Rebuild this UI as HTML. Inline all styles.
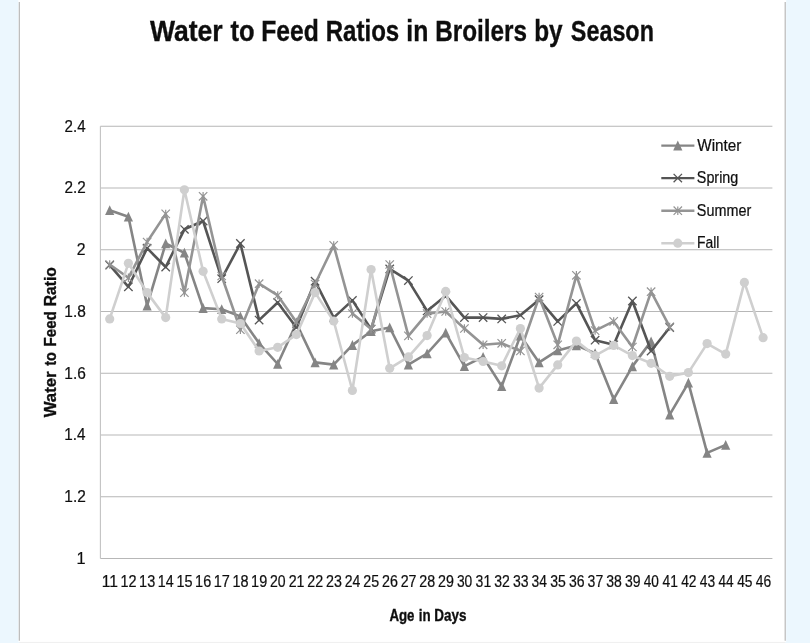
<!DOCTYPE html>
<html><head><meta charset="utf-8"><title>Water to Feed Ratios in Broilers by Season</title>
<style>html,body{margin:0;padding:0;background:#ecf7fe;}body{width:810px;height:643px;overflow:hidden;}svg{display:block;}text{font-family:"Liberation Sans",sans-serif;fill:#111;}</style></head><body>
<svg width="810" height="643" viewBox="0 0 810 643">
<defs><filter id="b" x="-2%" y="-2%" width="104%" height="104%"><feGaussianBlur stdDeviation="0.45"/></filter></defs>
<rect width="810" height="643" fill="#ecf7fe"/>
<rect x="18.4" y="0" width="767.8" height="642" fill="#ffffff"/>
<rect x="19.3" y="641.9" width="766" height="1.1" fill="#f0f0f0"/>
<g filter="url(#b)">
<path d="M19.3 2V640.8M785.2 2V640.8" stroke="#b6b6b6" stroke-width="1.15" fill="none"/>
<path d="M100.4 558.5H772.4M100.4 496.7H772.4M100.4 435.0H772.4M100.4 373.2H772.4M100.4 311.5H772.4M100.4 249.7H772.4M100.4 188.0H772.4M100.4 126.2H772.4" stroke="#b7b7b7" stroke-width="1.1" fill="none"/>
<path d="M100.4 126.2V558.5" stroke="#c2c2c2" stroke-width="1.1" fill="none"/>
<polyline points="109.7,210.2 128.4,216.7 147.1,305.6 165.7,243.5 184.4,252.8 203.1,308.1 221.7,309.3 240.4,316.4 259.1,343.3 277.7,364.0 296.4,323.2 315.1,362.4 333.7,364.6 352.4,345.1 371.1,331.2 389.7,327.5 408.4,364.6 427.1,353.5 445.7,332.8 464.4,366.1 483.1,356.9 501.7,386.2 520.4,335.6 539.1,362.4 557.7,350.4 576.4,345.4 595.1,353.2 613.7,399.2 632.4,366.4 651.1,341.4 669.7,414.6 688.4,382.8 707.1,452.9 725.7,444.9" fill="none" stroke="#858585" stroke-width="2.6" stroke-linejoin="round" stroke-linecap="round"/>
<path d="M109.7 205.2L114.3 215.0L105.1 215.0Z" fill="#858585"/><path d="M128.4 211.7L133.0 221.5L123.8 221.5Z" fill="#858585"/><path d="M147.1 300.6L151.7 310.4L142.5 310.4Z" fill="#858585"/><path d="M165.7 238.5L170.3 248.3L161.1 248.3Z" fill="#858585"/><path d="M184.4 247.8L189.0 257.6L179.8 257.6Z" fill="#858585"/><path d="M203.1 303.1L207.7 312.9L198.5 312.9Z" fill="#858585"/><path d="M221.7 304.3L226.3 314.1L217.1 314.1Z" fill="#858585"/><path d="M240.4 311.4L245.0 321.2L235.8 321.2Z" fill="#858585"/><path d="M259.1 338.3L263.7 348.1L254.5 348.1Z" fill="#858585"/><path d="M277.7 359.0L282.3 368.8L273.1 368.8Z" fill="#858585"/><path d="M296.4 318.2L301.0 328.0L291.8 328.0Z" fill="#858585"/><path d="M315.1 357.4L319.7 367.2L310.5 367.2Z" fill="#858585"/><path d="M333.7 359.6L338.3 369.4L329.1 369.4Z" fill="#858585"/><path d="M352.4 340.1L357.0 349.9L347.8 349.9Z" fill="#858585"/><path d="M371.1 326.2L375.7 336.0L366.5 336.0Z" fill="#858585"/><path d="M389.7 322.5L394.3 332.3L385.1 332.3Z" fill="#858585"/><path d="M408.4 359.6L413.0 369.4L403.8 369.4Z" fill="#858585"/><path d="M427.1 348.5L431.7 358.3L422.5 358.3Z" fill="#858585"/><path d="M445.7 327.8L450.3 337.6L441.1 337.6Z" fill="#858585"/><path d="M464.4 361.1L469.0 370.9L459.8 370.9Z" fill="#858585"/><path d="M483.1 351.9L487.7 361.7L478.5 361.7Z" fill="#858585"/><path d="M501.7 381.2L506.3 391.0L497.1 391.0Z" fill="#858585"/><path d="M520.4 330.6L525.0 340.4L515.8 340.4Z" fill="#858585"/><path d="M539.1 357.4L543.7 367.2L534.5 367.2Z" fill="#858585"/><path d="M557.7 345.4L562.3 355.2L553.1 355.2Z" fill="#858585"/><path d="M576.4 340.4L581.0 350.2L571.8 350.2Z" fill="#858585"/><path d="M595.1 348.2L599.7 358.0L590.5 358.0Z" fill="#858585"/><path d="M613.7 394.2L618.3 404.0L609.1 404.0Z" fill="#858585"/><path d="M632.4 361.4L637.0 371.2L627.8 371.2Z" fill="#858585"/><path d="M651.1 336.4L655.7 346.2L646.5 346.2Z" fill="#858585"/><path d="M669.7 409.6L674.3 419.4L665.1 419.4Z" fill="#858585"/><path d="M688.4 377.8L693.0 387.6L683.8 387.6Z" fill="#858585"/><path d="M707.1 447.9L711.7 457.7L702.5 457.7Z" fill="#858585"/><path d="M725.7 439.9L730.3 449.7L721.1 449.7Z" fill="#858585"/>
<polyline points="109.7,265.2 128.4,286.8 147.1,248.2 165.7,267.0 184.4,229.3 203.1,221.0 221.7,278.7 240.4,243.5 259.1,320.1 277.7,302.5 296.4,327.5 315.1,281.2 333.7,317.6 352.4,300.4 371.1,329.1 389.7,268.9 408.4,280.6 427.1,310.9 445.7,295.7 464.4,317.6 483.1,317.6 501.7,318.9 520.4,315.2 539.1,299.7 557.7,321.4 576.4,303.4 595.1,340.2 613.7,344.8 632.4,301.0 651.1,351.0 669.7,327.5" fill="none" stroke="#555555" stroke-width="2.6" stroke-linejoin="round" stroke-linecap="round"/>
<path d="M105.5 261.0L113.9 269.4M105.5 269.4L113.9 261.0" stroke="#555555" stroke-width="1.3" fill="none"/><path d="M124.2 282.6L132.6 291.0M124.2 291.0L132.6 282.6" stroke="#555555" stroke-width="1.3" fill="none"/><path d="M142.9 244.0L151.3 252.4M142.9 252.4L151.3 244.0" stroke="#555555" stroke-width="1.3" fill="none"/><path d="M161.5 262.8L169.9 271.2M161.5 271.2L169.9 262.8" stroke="#555555" stroke-width="1.3" fill="none"/><path d="M180.2 225.1L188.6 233.5M180.2 233.5L188.6 225.1" stroke="#555555" stroke-width="1.3" fill="none"/><path d="M198.9 216.8L207.3 225.2M198.9 225.2L207.3 216.8" stroke="#555555" stroke-width="1.3" fill="none"/><path d="M217.5 274.5L225.9 282.9M217.5 282.9L225.9 274.5" stroke="#555555" stroke-width="1.3" fill="none"/><path d="M236.2 239.3L244.6 247.7M236.2 247.7L244.6 239.3" stroke="#555555" stroke-width="1.3" fill="none"/><path d="M254.9 315.9L263.3 324.3M254.9 324.3L263.3 315.9" stroke="#555555" stroke-width="1.3" fill="none"/><path d="M273.5 298.3L281.9 306.7M273.5 306.7L281.9 298.3" stroke="#555555" stroke-width="1.3" fill="none"/><path d="M292.2 323.3L300.6 331.7M292.2 331.7L300.6 323.3" stroke="#555555" stroke-width="1.3" fill="none"/><path d="M310.9 277.0L319.3 285.4M310.9 285.4L319.3 277.0" stroke="#555555" stroke-width="1.3" fill="none"/><path d="M329.5 313.4L337.9 321.8M329.5 321.8L337.9 313.4" stroke="#555555" stroke-width="1.3" fill="none"/><path d="M348.2 296.2L356.6 304.6M348.2 304.6L356.6 296.2" stroke="#555555" stroke-width="1.3" fill="none"/><path d="M366.9 324.9L375.3 333.3M366.9 333.3L375.3 324.9" stroke="#555555" stroke-width="1.3" fill="none"/><path d="M385.5 264.7L393.9 273.1M385.5 273.1L393.9 264.7" stroke="#555555" stroke-width="1.3" fill="none"/><path d="M404.2 276.4L412.6 284.8M404.2 284.8L412.6 276.4" stroke="#555555" stroke-width="1.3" fill="none"/><path d="M422.9 306.7L431.3 315.1M422.9 315.1L431.3 306.7" stroke="#555555" stroke-width="1.3" fill="none"/><path d="M441.5 291.5L449.9 299.9M441.5 299.9L449.9 291.5" stroke="#555555" stroke-width="1.3" fill="none"/><path d="M460.2 313.4L468.6 321.8M460.2 321.8L468.6 313.4" stroke="#555555" stroke-width="1.3" fill="none"/><path d="M478.9 313.4L487.3 321.8M478.9 321.8L487.3 313.4" stroke="#555555" stroke-width="1.3" fill="none"/><path d="M497.5 314.7L505.9 323.1M497.5 323.1L505.9 314.7" stroke="#555555" stroke-width="1.3" fill="none"/><path d="M516.2 311.0L524.6 319.4M516.2 319.4L524.6 311.0" stroke="#555555" stroke-width="1.3" fill="none"/><path d="M534.9 295.5L543.3 303.9M534.9 303.9L543.3 295.5" stroke="#555555" stroke-width="1.3" fill="none"/><path d="M553.5 317.2L561.9 325.6M553.5 325.6L561.9 317.2" stroke="#555555" stroke-width="1.3" fill="none"/><path d="M572.2 299.2L580.6 307.6M572.2 307.6L580.6 299.2" stroke="#555555" stroke-width="1.3" fill="none"/><path d="M590.9 336.0L599.3 344.4M590.9 344.4L599.3 336.0" stroke="#555555" stroke-width="1.3" fill="none"/><path d="M609.5 340.6L617.9 349.0M609.5 349.0L617.9 340.6" stroke="#555555" stroke-width="1.3" fill="none"/><path d="M628.2 296.8L636.6 305.2M628.2 305.2L636.6 296.8" stroke="#555555" stroke-width="1.3" fill="none"/><path d="M646.9 346.8L655.3 355.2M646.9 355.2L655.3 346.8" stroke="#555555" stroke-width="1.3" fill="none"/><path d="M665.5 323.3L673.9 331.7M665.5 331.7L673.9 323.3" stroke="#555555" stroke-width="1.3" fill="none"/>
<polyline points="109.7,264.5 128.4,277.8 147.1,242.0 165.7,213.9 184.4,292.6 203.1,196.3 221.7,276.0 240.4,329.7 259.1,283.7 277.7,295.4 296.4,322.0 315.1,284.0 333.7,245.4 352.4,313.6 371.1,329.1 389.7,264.5 408.4,335.9 427.1,313.6 445.7,311.5 464.4,328.5 483.1,344.8 501.7,343.3 520.4,351.0 539.1,297.0 557.7,344.8 576.4,275.3 595.1,330.6 613.7,321.4 632.4,347.0 651.1,291.7 669.7,326.9" fill="none" stroke="#949494" stroke-width="2.6" stroke-linejoin="round" stroke-linecap="round"/>
<path d="M105.5 260.3L113.9 268.7M105.5 268.7L113.9 260.3M109.7 260.3L109.7 268.7" stroke="#949494" stroke-width="1.2" fill="none"/><path d="M124.2 273.6L132.6 282.0M124.2 282.0L132.6 273.6M128.4 273.6L128.4 282.0" stroke="#949494" stroke-width="1.2" fill="none"/><path d="M142.9 237.8L151.3 246.2M142.9 246.2L151.3 237.8M147.1 237.8L147.1 246.2" stroke="#949494" stroke-width="1.2" fill="none"/><path d="M161.5 209.7L169.9 218.1M161.5 218.1L169.9 209.7M165.7 209.7L165.7 218.1" stroke="#949494" stroke-width="1.2" fill="none"/><path d="M180.2 288.4L188.6 296.8M180.2 296.8L188.6 288.4M184.4 288.4L184.4 296.8" stroke="#949494" stroke-width="1.2" fill="none"/><path d="M198.9 192.1L207.3 200.5M198.9 200.5L207.3 192.1M203.1 192.1L203.1 200.5" stroke="#949494" stroke-width="1.2" fill="none"/><path d="M217.5 271.8L225.9 280.2M217.5 280.2L225.9 271.8M221.7 271.8L221.7 280.2" stroke="#949494" stroke-width="1.2" fill="none"/><path d="M236.2 325.5L244.6 333.9M236.2 333.9L244.6 325.5M240.4 325.5L240.4 333.9" stroke="#949494" stroke-width="1.2" fill="none"/><path d="M254.9 279.5L263.3 287.9M254.9 287.9L263.3 279.5M259.1 279.5L259.1 287.9" stroke="#949494" stroke-width="1.2" fill="none"/><path d="M273.5 291.2L281.9 299.6M273.5 299.6L281.9 291.2M277.7 291.2L277.7 299.6" stroke="#949494" stroke-width="1.2" fill="none"/><path d="M292.2 317.8L300.6 326.2M292.2 326.2L300.6 317.8M296.4 317.8L296.4 326.2" stroke="#949494" stroke-width="1.2" fill="none"/><path d="M310.9 279.8L319.3 288.2M310.9 288.2L319.3 279.8M315.1 279.8L315.1 288.2" stroke="#949494" stroke-width="1.2" fill="none"/><path d="M329.5 241.2L337.9 249.6M329.5 249.6L337.9 241.2M333.7 241.2L333.7 249.6" stroke="#949494" stroke-width="1.2" fill="none"/><path d="M348.2 309.4L356.6 317.8M348.2 317.8L356.6 309.4M352.4 309.4L352.4 317.8" stroke="#949494" stroke-width="1.2" fill="none"/><path d="M366.9 324.9L375.3 333.3M366.9 333.3L375.3 324.9M371.1 324.9L371.1 333.3" stroke="#949494" stroke-width="1.2" fill="none"/><path d="M385.5 260.3L393.9 268.7M385.5 268.7L393.9 260.3M389.7 260.3L389.7 268.7" stroke="#949494" stroke-width="1.2" fill="none"/><path d="M404.2 331.7L412.6 340.1M404.2 340.1L412.6 331.7M408.4 331.7L408.4 340.1" stroke="#949494" stroke-width="1.2" fill="none"/><path d="M422.9 309.4L431.3 317.8M422.9 317.8L431.3 309.4M427.1 309.4L427.1 317.8" stroke="#949494" stroke-width="1.2" fill="none"/><path d="M441.5 307.3L449.9 315.7M441.5 315.7L449.9 307.3M445.7 307.3L445.7 315.7" stroke="#949494" stroke-width="1.2" fill="none"/><path d="M460.2 324.3L468.6 332.7M460.2 332.7L468.6 324.3M464.4 324.3L464.4 332.7" stroke="#949494" stroke-width="1.2" fill="none"/><path d="M478.9 340.6L487.3 349.0M478.9 349.0L487.3 340.6M483.1 340.6L483.1 349.0" stroke="#949494" stroke-width="1.2" fill="none"/><path d="M497.5 339.1L505.9 347.5M497.5 347.5L505.9 339.1M501.7 339.1L501.7 347.5" stroke="#949494" stroke-width="1.2" fill="none"/><path d="M516.2 346.8L524.6 355.2M516.2 355.2L524.6 346.8M520.4 346.8L520.4 355.2" stroke="#949494" stroke-width="1.2" fill="none"/><path d="M534.9 292.8L543.3 301.2M534.9 301.2L543.3 292.8M539.1 292.8L539.1 301.2" stroke="#949494" stroke-width="1.2" fill="none"/><path d="M553.5 340.6L561.9 349.0M553.5 349.0L561.9 340.6M557.7 340.6L557.7 349.0" stroke="#949494" stroke-width="1.2" fill="none"/><path d="M572.2 271.1L580.6 279.5M572.2 279.5L580.6 271.1M576.4 271.1L576.4 279.5" stroke="#949494" stroke-width="1.2" fill="none"/><path d="M590.9 326.4L599.3 334.8M590.9 334.8L599.3 326.4M595.1 326.4L595.1 334.8" stroke="#949494" stroke-width="1.2" fill="none"/><path d="M609.5 317.2L617.9 325.6M609.5 325.6L617.9 317.2M613.7 317.2L613.7 325.6" stroke="#949494" stroke-width="1.2" fill="none"/><path d="M628.2 342.8L636.6 351.2M628.2 351.2L636.6 342.8M632.4 342.8L632.4 351.2" stroke="#949494" stroke-width="1.2" fill="none"/><path d="M646.9 287.5L655.3 295.9M646.9 295.9L655.3 287.5M651.1 287.5L651.1 295.9" stroke="#949494" stroke-width="1.2" fill="none"/><path d="M665.5 322.7L673.9 331.1M665.5 331.1L673.9 322.7M669.7 322.7L669.7 331.1" stroke="#949494" stroke-width="1.2" fill="none"/>
<polyline points="109.7,318.9 128.4,263.3 147.1,292.6 165.7,317.6 184.4,189.8 203.1,271.3 221.7,318.9 240.4,323.5 259.1,351.0 277.7,347.3 296.4,334.6 315.1,292.6 333.7,321.0 352.4,390.5 371.1,269.5 389.7,368.3 408.4,356.9 427.1,335.6 445.7,291.4 464.4,357.5 483.1,361.5 501.7,365.8 520.4,328.5 539.1,388.1 557.7,364.9 576.4,341.1 595.1,355.6 613.7,345.4 632.4,355.6 651.1,363.3 669.7,376.3 688.4,372.6 707.1,343.6 725.7,354.1 744.4,282.4 763.1,337.7" fill="none" stroke="#cfcfcf" stroke-width="2.6" stroke-linejoin="round" stroke-linecap="round"/>
<circle cx="109.7" cy="318.9" r="4.6" fill="#cfcfcf"/><circle cx="128.4" cy="263.3" r="4.6" fill="#cfcfcf"/><circle cx="147.1" cy="292.6" r="4.6" fill="#cfcfcf"/><circle cx="165.7" cy="317.6" r="4.6" fill="#cfcfcf"/><circle cx="184.4" cy="189.8" r="4.6" fill="#cfcfcf"/><circle cx="203.1" cy="271.3" r="4.6" fill="#cfcfcf"/><circle cx="221.7" cy="318.9" r="4.6" fill="#cfcfcf"/><circle cx="240.4" cy="323.5" r="4.6" fill="#cfcfcf"/><circle cx="259.1" cy="351.0" r="4.6" fill="#cfcfcf"/><circle cx="277.7" cy="347.3" r="4.6" fill="#cfcfcf"/><circle cx="296.4" cy="334.6" r="4.6" fill="#cfcfcf"/><circle cx="315.1" cy="292.6" r="4.6" fill="#cfcfcf"/><circle cx="333.7" cy="321.0" r="4.6" fill="#cfcfcf"/><circle cx="352.4" cy="390.5" r="4.6" fill="#cfcfcf"/><circle cx="371.1" cy="269.5" r="4.6" fill="#cfcfcf"/><circle cx="389.7" cy="368.3" r="4.6" fill="#cfcfcf"/><circle cx="408.4" cy="356.9" r="4.6" fill="#cfcfcf"/><circle cx="427.1" cy="335.6" r="4.6" fill="#cfcfcf"/><circle cx="445.7" cy="291.4" r="4.6" fill="#cfcfcf"/><circle cx="464.4" cy="357.5" r="4.6" fill="#cfcfcf"/><circle cx="483.1" cy="361.5" r="4.6" fill="#cfcfcf"/><circle cx="501.7" cy="365.8" r="4.6" fill="#cfcfcf"/><circle cx="520.4" cy="328.5" r="4.6" fill="#cfcfcf"/><circle cx="539.1" cy="388.1" r="4.6" fill="#cfcfcf"/><circle cx="557.7" cy="364.9" r="4.6" fill="#cfcfcf"/><circle cx="576.4" cy="341.1" r="4.6" fill="#cfcfcf"/><circle cx="595.1" cy="355.6" r="4.6" fill="#cfcfcf"/><circle cx="613.7" cy="345.4" r="4.6" fill="#cfcfcf"/><circle cx="632.4" cy="355.6" r="4.6" fill="#cfcfcf"/><circle cx="651.1" cy="363.3" r="4.6" fill="#cfcfcf"/><circle cx="669.7" cy="376.3" r="4.6" fill="#cfcfcf"/><circle cx="688.4" cy="372.6" r="4.6" fill="#cfcfcf"/><circle cx="707.1" cy="343.6" r="4.6" fill="#cfcfcf"/><circle cx="725.7" cy="354.1" r="4.6" fill="#cfcfcf"/><circle cx="744.4" cy="282.4" r="4.6" fill="#cfcfcf"/><circle cx="763.1" cy="337.7" r="4.6" fill="#cfcfcf"/>
<path d="M661.3 145.6H694.4" stroke="#858585" stroke-width="2.4" fill="none"/>
<path d="M677.8 140.6L682.4 150.4L673.2 150.4Z" fill="#858585"/>
<path d="M661.3 178.1H694.4" stroke="#555555" stroke-width="2.4" fill="none"/>
<path d="M673.6 173.9L682.0 182.3M673.6 182.3L682.0 173.9" stroke="#555555" stroke-width="1.3" fill="none"/>
<path d="M661.3 210.7H694.4" stroke="#949494" stroke-width="2.4" fill="none"/>
<path d="M673.6 206.5L682.0 214.9M673.6 214.9L682.0 206.5M677.8 206.5L677.8 214.9" stroke="#949494" stroke-width="1.2" fill="none"/>
<path d="M661.3 243.2H694.4" stroke="#cfcfcf" stroke-width="2.4" fill="none"/>
<circle cx="677.8" cy="243.2" r="4.6" fill="#cfcfcf"/>
<text transform="translate(697.30 150.50) scale(0.9801 1)" font-size="15.6" stroke="#111" stroke-width="0.22">Winter</text>
<text transform="translate(696.85 183.05) scale(0.9193 1)" font-size="15.6" stroke="#111" stroke-width="0.22">Spring</text>
<text transform="translate(696.85 215.60) scale(0.9233 1)" font-size="15.6" stroke="#111" stroke-width="0.22">Summer</text>
<text transform="translate(697.01 248.15) scale(0.8912 1)" font-size="15.6" stroke="#111" stroke-width="0.22">Fall</text>
<text transform="translate(76.38 564.00) scale(1.0469 1)" font-size="15.6" stroke="#111" stroke-width="0.22">1</text>
<text transform="translate(64.33 502.24) scale(0.9911 1)" font-size="15.6" stroke="#111" stroke-width="0.22">1.2</text>
<text transform="translate(64.35 440.49) scale(0.9792 1)" font-size="15.6" stroke="#111" stroke-width="0.22">1.4</text>
<text transform="translate(64.33 378.73) scale(0.9911 1)" font-size="15.6" stroke="#111" stroke-width="0.22">1.6</text>
<text transform="translate(64.33 316.97) scale(0.9911 1)" font-size="15.6" stroke="#111" stroke-width="0.22">1.8</text>
<text transform="translate(76.66 255.21) scale(1.0120 1)" font-size="15.6" stroke="#111" stroke-width="0.22">2</text>
<text transform="translate(64.58 193.46) scale(0.9792 1)" font-size="15.6" stroke="#111" stroke-width="0.22">2.2</text>
<text transform="translate(64.59 131.70) scale(0.9676 1)" font-size="15.6" stroke="#111" stroke-width="0.22">2.4</text>
<text transform="translate(101.71 587.40) scale(1.0009 1)" font-size="15.6" stroke="#111" stroke-width="0.22">11</text>
<text transform="translate(120.45 587.40) scale(0.9273 1)" font-size="15.6" stroke="#111" stroke-width="0.22">12</text>
<text transform="translate(139.11 587.40) scale(0.9273 1)" font-size="15.6" stroke="#111" stroke-width="0.22">13</text>
<text transform="translate(157.79 587.40) scale(0.9132 1)" font-size="15.6" stroke="#111" stroke-width="0.22">14</text>
<text transform="translate(176.45 587.40) scale(0.9273 1)" font-size="15.6" stroke="#111" stroke-width="0.22">15</text>
<text transform="translate(195.11 587.40) scale(0.9273 1)" font-size="15.6" stroke="#111" stroke-width="0.22">16</text>
<text transform="translate(213.78 587.40) scale(0.9273 1)" font-size="15.6" stroke="#111" stroke-width="0.22">17</text>
<text transform="translate(232.45 587.40) scale(0.9273 1)" font-size="15.6" stroke="#111" stroke-width="0.22">18</text>
<text transform="translate(251.11 587.40) scale(0.9273 1)" font-size="15.6" stroke="#111" stroke-width="0.22">19</text>
<text transform="translate(270.03 587.40) scale(0.8994 1)" font-size="15.6" stroke="#111" stroke-width="0.22">20</text>
<text transform="translate(288.68 587.40) scale(0.9132 1)" font-size="15.6" stroke="#111" stroke-width="0.22">21</text>
<text transform="translate(307.35 587.40) scale(0.9132 1)" font-size="15.6" stroke="#111" stroke-width="0.22">22</text>
<text transform="translate(326.02 587.40) scale(0.9132 1)" font-size="15.6" stroke="#111" stroke-width="0.22">23</text>
<text transform="translate(344.69 587.40) scale(0.8994 1)" font-size="15.6" stroke="#111" stroke-width="0.22">24</text>
<text transform="translate(363.35 587.40) scale(0.9132 1)" font-size="15.6" stroke="#111" stroke-width="0.22">25</text>
<text transform="translate(382.02 587.40) scale(0.9132 1)" font-size="15.6" stroke="#111" stroke-width="0.22">26</text>
<text transform="translate(400.68 587.40) scale(0.9132 1)" font-size="15.6" stroke="#111" stroke-width="0.22">27</text>
<text transform="translate(419.35 587.40) scale(0.9132 1)" font-size="15.6" stroke="#111" stroke-width="0.22">28</text>
<text transform="translate(438.02 587.40) scale(0.9132 1)" font-size="15.6" stroke="#111" stroke-width="0.22">29</text>
<text transform="translate(456.92 587.40) scale(0.8861 1)" font-size="15.6" stroke="#111" stroke-width="0.22">30</text>
<text transform="translate(475.58 587.40) scale(0.8994 1)" font-size="15.6" stroke="#111" stroke-width="0.22">31</text>
<text transform="translate(494.24 587.40) scale(0.8994 1)" font-size="15.6" stroke="#111" stroke-width="0.22">32</text>
<text transform="translate(512.91 587.40) scale(0.8994 1)" font-size="15.6" stroke="#111" stroke-width="0.22">33</text>
<text transform="translate(531.58 587.40) scale(0.8861 1)" font-size="15.6" stroke="#111" stroke-width="0.22">34</text>
<text transform="translate(550.24 587.40) scale(0.8994 1)" font-size="15.6" stroke="#111" stroke-width="0.22">35</text>
<text transform="translate(568.91 587.40) scale(0.8994 1)" font-size="15.6" stroke="#111" stroke-width="0.22">36</text>
<text transform="translate(587.58 587.40) scale(0.8994 1)" font-size="15.6" stroke="#111" stroke-width="0.22">37</text>
<text transform="translate(606.24 587.40) scale(0.8994 1)" font-size="15.6" stroke="#111" stroke-width="0.22">38</text>
<text transform="translate(624.91 587.40) scale(0.8994 1)" font-size="15.6" stroke="#111" stroke-width="0.22">39</text>
<text transform="translate(643.80 587.40) scale(0.8732 1)" font-size="15.6" stroke="#111" stroke-width="0.22">40</text>
<text transform="translate(662.47 587.40) scale(0.8861 1)" font-size="15.6" stroke="#111" stroke-width="0.22">41</text>
<text transform="translate(681.13 587.40) scale(0.8861 1)" font-size="15.6" stroke="#111" stroke-width="0.22">42</text>
<text transform="translate(699.80 587.40) scale(0.8861 1)" font-size="15.6" stroke="#111" stroke-width="0.22">43</text>
<text transform="translate(718.47 587.40) scale(0.8732 1)" font-size="15.6" stroke="#111" stroke-width="0.22">44</text>
<text transform="translate(737.13 587.40) scale(0.8861 1)" font-size="15.6" stroke="#111" stroke-width="0.22">45</text>
<text transform="translate(755.80 587.40) scale(0.8861 1)" font-size="15.6" stroke="#111" stroke-width="0.22">46</text>
<text transform="translate(149.90 41.10) scale(0.9186 1)" font-size="28.9" font-weight="bold" stroke="#111" stroke-width="0.35">Water</text>
<text transform="translate(230.60 41.10) scale(0.8849 1)" font-size="28.9" font-weight="bold" stroke="#111" stroke-width="0.35">to</text>
<text transform="translate(261.26 41.10) scale(0.8527 1)" font-size="28.9" font-weight="bold" stroke="#111" stroke-width="0.35">Feed</text>
<text transform="translate(325.70 41.10) scale(0.8331 1)" font-size="28.9" font-weight="bold" stroke="#111" stroke-width="0.35">Ratios</text>
<text transform="translate(406.35 41.10) scale(0.8586 1)" font-size="28.9" font-weight="bold" stroke="#111" stroke-width="0.35">in</text>
<text transform="translate(435.28 41.10) scale(0.8405 1)" font-size="28.9" font-weight="bold" stroke="#111" stroke-width="0.35">Broilers</text>
<text transform="translate(534.18 41.10) scale(0.8442 1)" font-size="28.9" font-weight="bold" stroke="#111" stroke-width="0.35">by</text>
<text transform="translate(570.84 41.10) scale(0.8083 1)" font-size="28.9" font-weight="bold" stroke="#111" stroke-width="0.35">Season</text>
<text transform="translate(389.39 620.50) scale(0.8496 1)" font-size="15.6" font-weight="bold" stroke="#111" stroke-width="0.35">Age</text>
<text transform="translate(418.76 620.50) scale(0.8571 1)" font-size="15.6" font-weight="bold" stroke="#111" stroke-width="0.35">in</text>
<text transform="translate(434.36 620.50) scale(0.8631 1)" font-size="15.6" font-weight="bold" stroke="#111" stroke-width="0.35">Days</text>
<text transform="translate(56.10 417.30) rotate(-90) translate(0.00 0) scale(1.0719 1)" font-size="15.6" font-weight="bold" stroke="#111" stroke-width="0.35">Water</text>
<text transform="translate(56.10 417.30) rotate(-90) translate(51.50 0) scale(0.9357 1)" font-size="15.6" font-weight="bold" stroke="#111" stroke-width="0.35">to</text>
<text transform="translate(56.10 417.30) rotate(-90) translate(70.86 0) scale(0.9670 1)" font-size="15.6" font-weight="bold" stroke="#111" stroke-width="0.35">Feed</text>
<text transform="translate(56.10 417.30) rotate(-90) translate(111.13 0) scale(0.9996 1)" font-size="15.6" font-weight="bold" stroke="#111" stroke-width="0.35">Ratio</text>
</g></svg></body></html>
